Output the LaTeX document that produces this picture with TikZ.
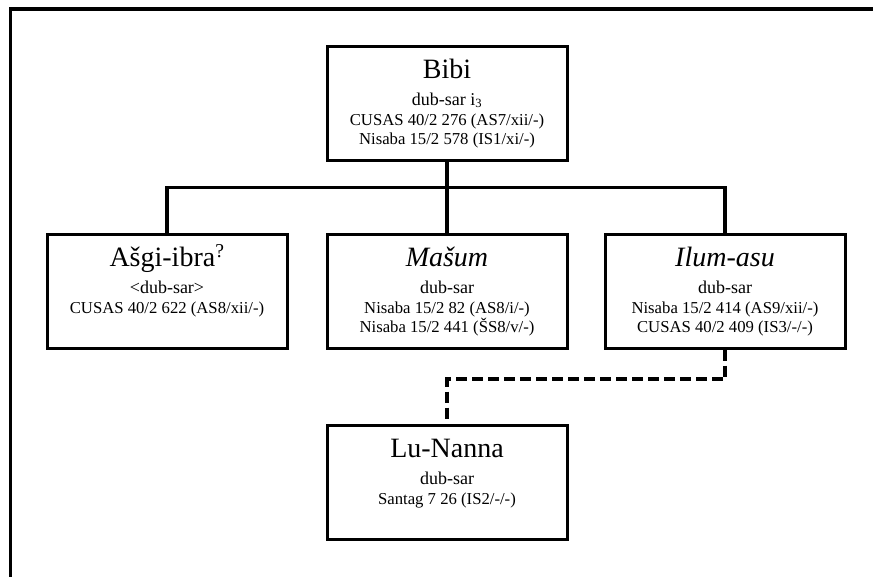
\documentclass[tikz,border=0pt]{standalone}
\usepackage{fontspec}
\setmainfont{Liberation Serif}
\usepackage{tikz}
\usetikzlibrary{positioning,calc}
\newcommand{\persontext}[3]{\parbox[c][114pt][t]{240pt}{\centering\parskip=0pt
  \fontsize{28}{28}\selectfont\rule{0pt}{32.5pt}#1\par
  \fontsize{18}{26.5}\selectfont #2\par\vspace{1.5pt}
  \fontsize{16.7}{19.2}\selectfont #3\par}}
\tikzset{
  person/.style={rectangle, draw, line width=3pt, minimum width=240pt,
                 minimum height=114pt, inner sep=0pt},
  famline/.style={line width=3.5pt, line join=miter},
  dashline/.style={line width=3.5pt, dash pattern=on 11pt off 5pt}
}

\begin{document}
\begin{tikzpicture}[x=1pt, y=-1pt, node distance=71pt and 36pt]
\useasboundingbox (0,0) rectangle (873,576);
% frame, cut off on the right and at the bottom
\begin{scope}
\clip (0,0) rectangle (873,576);
\draw[line width=3.3pt] (10.7,9) rectangle (900,600);
\end{scope}
\node[person] (bibi) at (447,103) {\persontext{Bibi}{dub-sar i\textsubscript{3}}{CUSAS 40/2 276 (AS7/xii/-)\\Nisaba 15/2 578 (IS1/xi/-)}};
\node[person, below=of bibi] (masum) {\persontext{\textit{Mašum}}{dub-sar}{Nisaba 15/2 82 (AS8/i/-)\\Nisaba 15/2 441 (ŠS8/v/-)}};
\node[person, left=37pt of masum] (ashgi) {\persontext{Ašgi-ibra\textsuperscript{?}}{<dub-sar>}{CUSAS 40/2 622 (AS8/xii/-)}};
\node[person, right=35pt of masum] (ilum) {\persontext{\textit{Ilum-asu}}{dub-sar}{Nisaba 15/2 414 (AS9/xii/-)\\CUSAS 40/2 409 (IS3/-/-)}};
\node[person, below=74pt of masum] (lunanna) {\persontext{Lu-Nanna}{dub-sar}{Santag 7 26 (IS2/-/-)}};
\coordinate (bar) at ($(bibi.south)!0.366!(masum.north)$);
\draw[famline] (bibi.south) -- (masum.north);
\draw[famline] (ashgi.north) |- (bar) -| (ilum.north);
\draw[dashline] (ilum.south) |- ($(ilum.south)!0.4!(lunanna.north)$) -| (lunanna.north);
\end{tikzpicture}
\end{document}
